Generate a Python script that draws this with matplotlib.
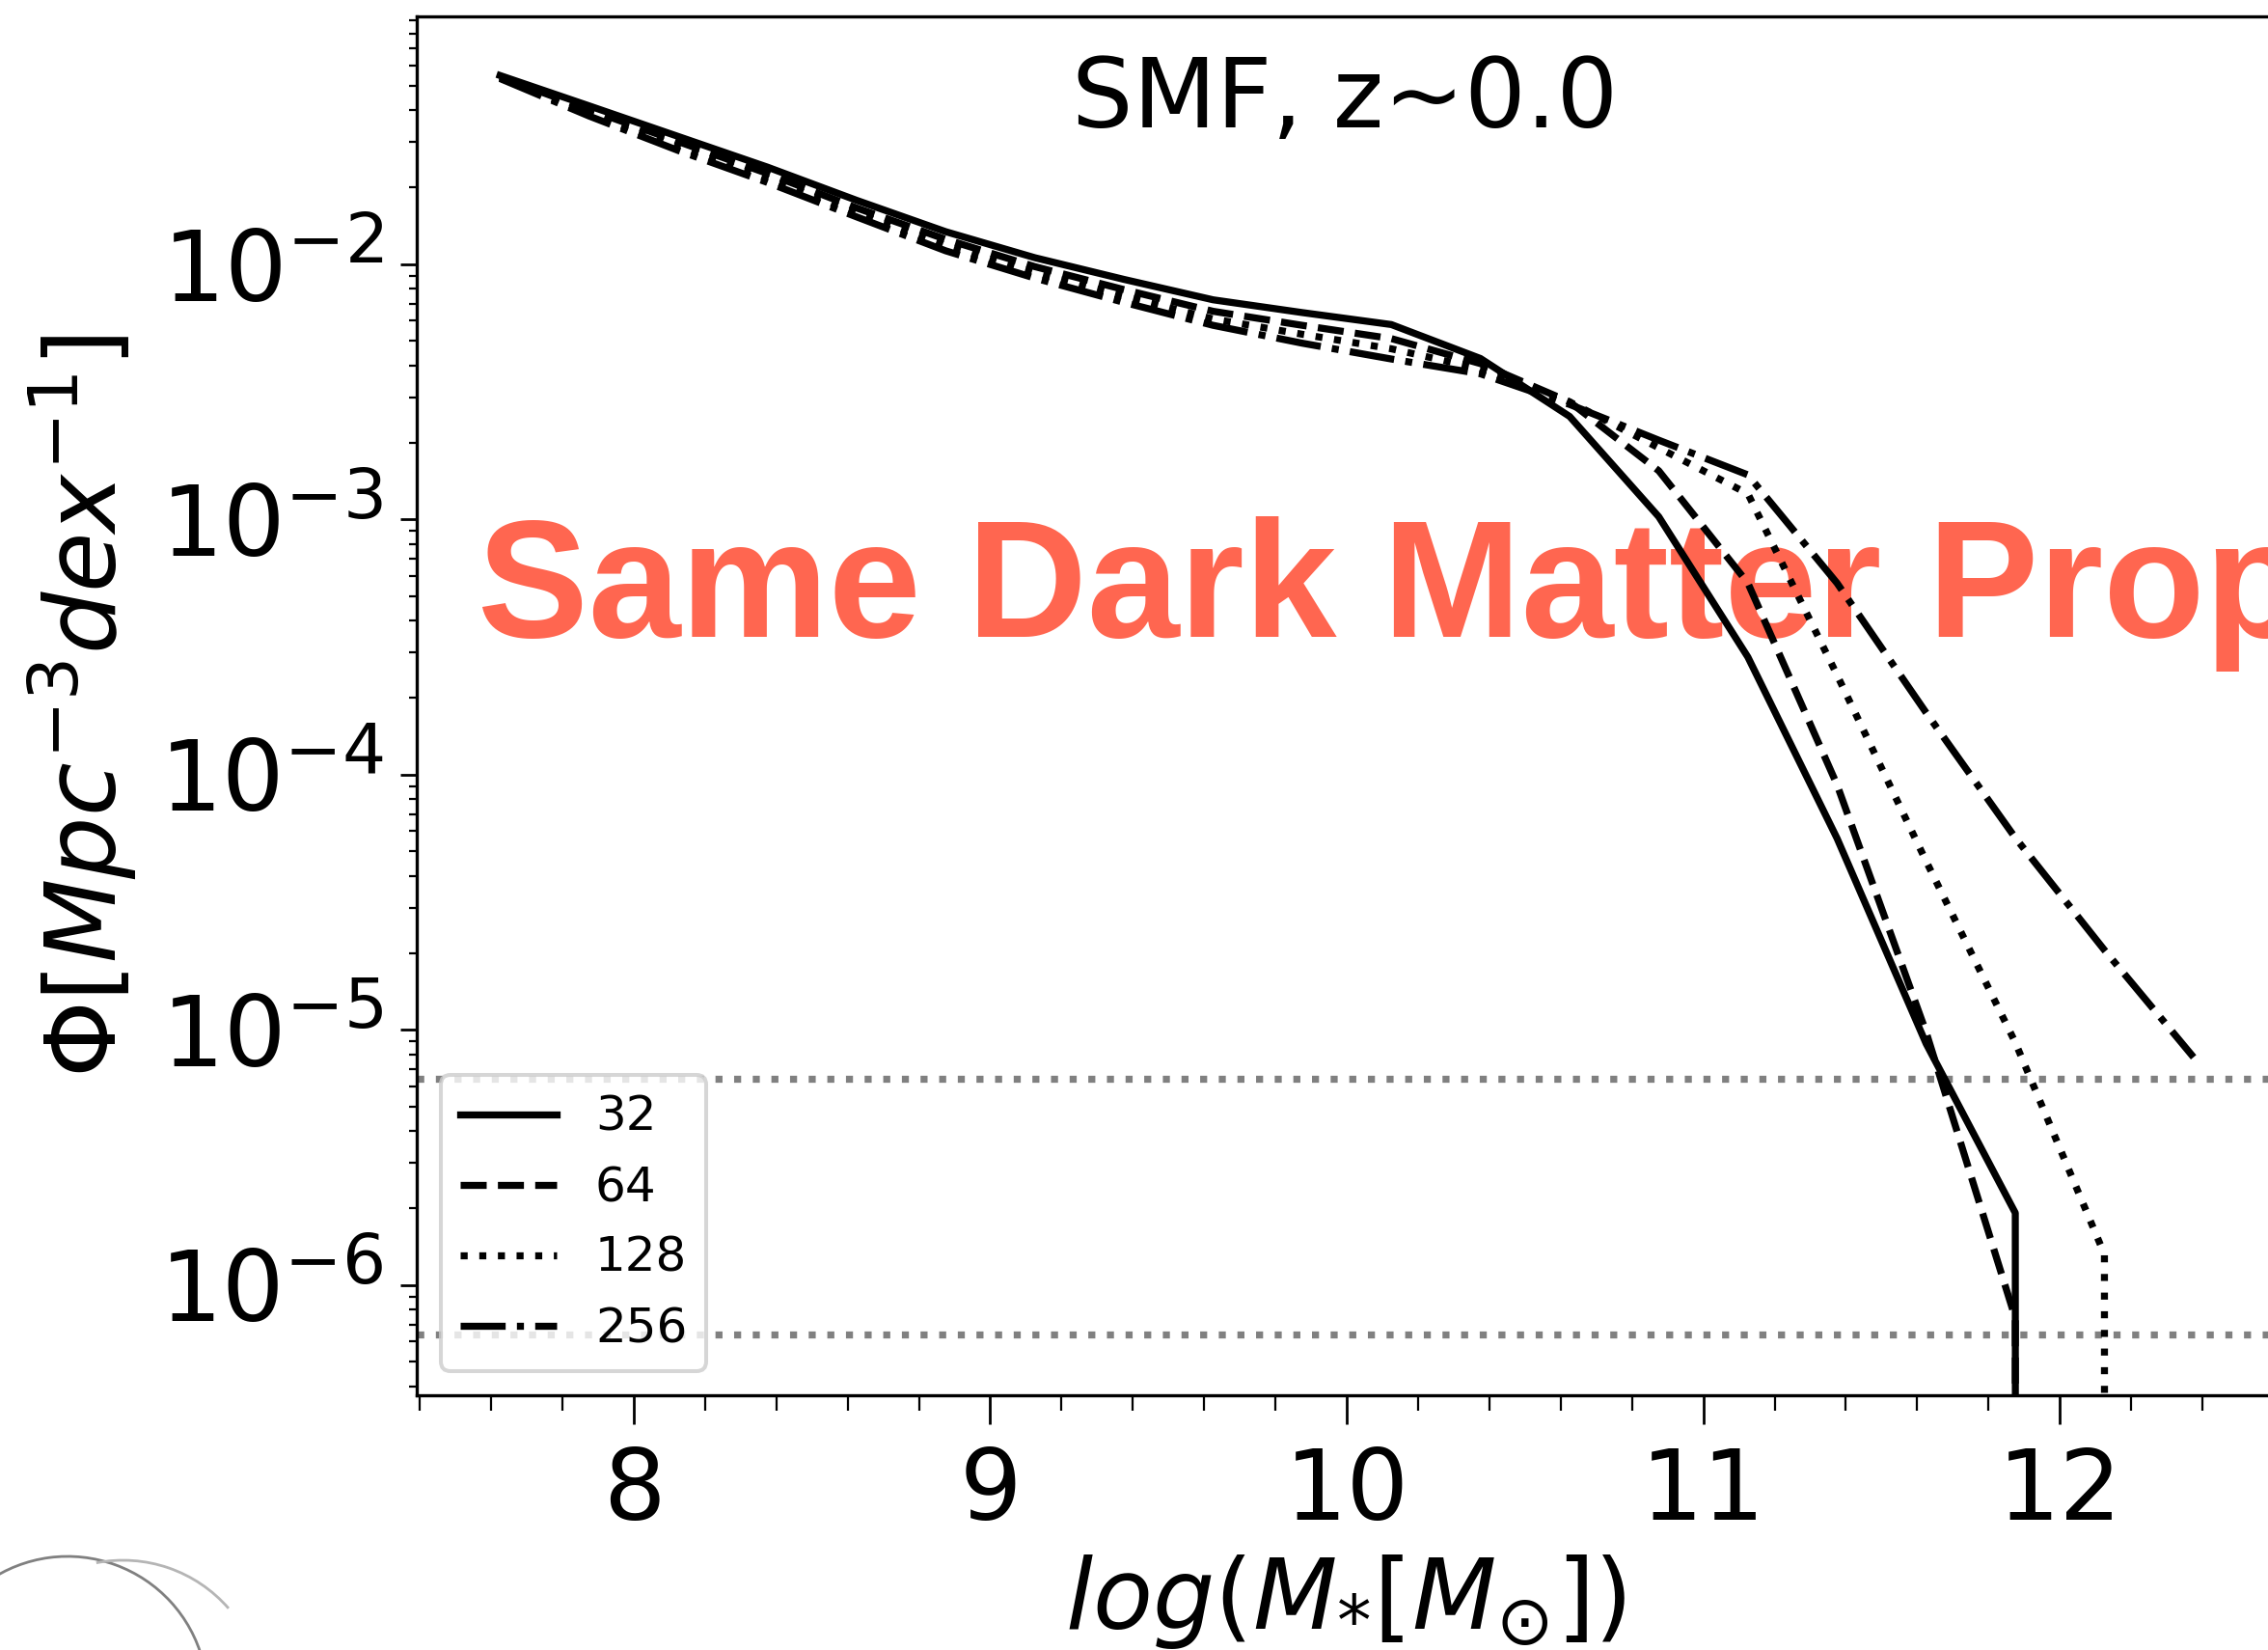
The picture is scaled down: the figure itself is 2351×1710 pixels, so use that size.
import numpy as np
import matplotlib
matplotlib.use("Agg")
import matplotlib.pyplot as plt
from matplotlib.ticker import MultipleLocator, LogLocator
from matplotlib.patches import Arc

# ---------------- data ----------------
log_mstar = [7.625, 7.875, 8.125, 8.375, 8.625, 8.875, 9.125, 9.375, 9.625, 9.875,
             10.125, 10.375, 10.625, 10.875, 11.125, 11.375, 11.625, 11.875, 12.125, 12.375]

series_labels = ["32", "64", "128", "256"]
series_styles = ["-", "--", ":", "-."]

# log10(Phi); None = empty bin (Phi = 0)
logphi_32 = [-1.261, -1.38, -1.50, -1.62, -1.75, -1.873, -1.975, -2.06, -2.14, -2.19,
             -2.237, -2.37, -2.597, -2.99, -3.54, -4.25, -5.055, -5.718, None, None]
logphi_64 = [-1.266, -1.395, -1.52, -1.645, -1.78, -1.903, -2.01, -2.10, -2.185, -2.24,
             -2.292, -2.39, -2.54, -2.81, -3.25, -4.04, -5.01, -6.13, None, None]
logphi_128 = [-1.271, -1.41, -1.54, -1.665, -1.80, -1.928, -2.035, -2.125, -2.215, -2.275,
              -2.332, -2.41, -2.54, -2.72, -2.90, -3.61, -4.34, -5.05, -5.88, None]
logphi_256 = [-1.273, -1.42, -1.555, -1.68, -1.815, -1.948, -2.055, -2.15, -2.24, -2.31,
              -2.372, -2.43, -2.55, -2.69, -2.826, -3.25, -3.758, -4.248, -4.688, -5.108]

limit_lines = [6.4e-6, 6.4e-7]

title_text = "SMF, z~0.0"
overlay_text = "Same Dark Matter Properties"
xlabel = r"$log(M_{*}[M_{\odot}])$"
ylabel = r"$\Phi[Mpc^{-3} dex^{-1}]$"


def to_phi(vals):
    return [10.0 ** v if v is not None else 0.0 for v in vals]


# ---------------- figure ----------------
W, H = 2351, 1710
fig = plt.figure(figsize=(W / 100, H / 100), dpi=100)
fig.patch.set_facecolor("white")

left_px, right_px, top_px, bottom_px = 432, 2357, 16.6, 1446
ax = fig.add_axes([left_px / W, 1 - bottom_px / H,
                   (right_px - left_px) / W, (bottom_px - top_px) / H])

lw = 5.25
for vals, lab, ls in zip([logphi_32, logphi_64, logphi_128, logphi_256],
                         series_labels, series_styles):
    ax.plot(log_mstar, to_phi(vals), color="black", ls=ls, lw=lw, label=lab, zorder=3)

for yv in limit_lines:
    ax.axhline(yv, color="grey", ls=":", lw=lw, zorder=2)

ax.set_yscale("log", nonpositive="clip")
ax.set_xlim(7.3915, 12.60)
ax.set_ylim(10 ** -6.4325, 10 ** -1.028)

ax.xaxis.set_major_locator(MultipleLocator(1))
ax.xaxis.set_minor_locator(MultipleLocator(0.2))
ax.yaxis.set_major_locator(LogLocator(base=10, numticks=20))
ax.yaxis.set_minor_locator(LogLocator(base=10, subs=np.arange(2, 10), numticks=20))

ax.tick_params(axis="x", which="major", length=21.6, width=2.0, labelsize=73, pad=16, direction="out")
ax.tick_params(axis="x", which="minor", length=11.3, width=1.6, direction="out")
ax.tick_params(axis="y", which="major", length=12, width=2.0, labelsize=73, pad=13, direction="out")
ax.tick_params(axis="y", which="minor", length=6, width=1.6, direction="out")
for sp in ax.spines.values():
    sp.set_linewidth(2.4)

ax.set_xlabel(xlabel, fontsize=73, labelpad=9)
ax.set_ylabel(ylabel, fontsize=73, labelpad=15)

ax.text(0.5, 0.9195, title_text, transform=ax.transAxes, ha="center", va="baseline",
        fontsize=72, zorder=4)

leg = ax.legend(loc="lower left", fontsize=36, handlelength=2.0)
leg.get_frame().set_linewidth(2.9)

# red overlay title (drawn beneath the curves)
ax.text(495 / W, 1 - 660 / H, overlay_text, transform=fig.transFigure,
        fontsize=124, fontweight="bold", family=["Liberation Sans", "DejaVu Sans"],
        color="#FF6650", ha="left", va="baseline", zorder=1, clip_on=False)

# decorative logo arcs at bottom-left
deco = fig.add_axes([0, 0, 1, 1], zorder=-1)
deco.set_xlim(0, W)
deco.set_ylim(0, H)
deco.axis("off")
deco.patch.set_visible(False)
deco.add_patch(Arc((70, H - 1758), 290, 290, theta1=15, theta2=125, color="#808080", lw=2.0))
deco.add_patch(Arc((127.5, H - 1762), 290, 290, theta1=41, theta2=101, color="#b5b5b5", lw=2.0))

fig.savefig("out.png", dpi=100)
